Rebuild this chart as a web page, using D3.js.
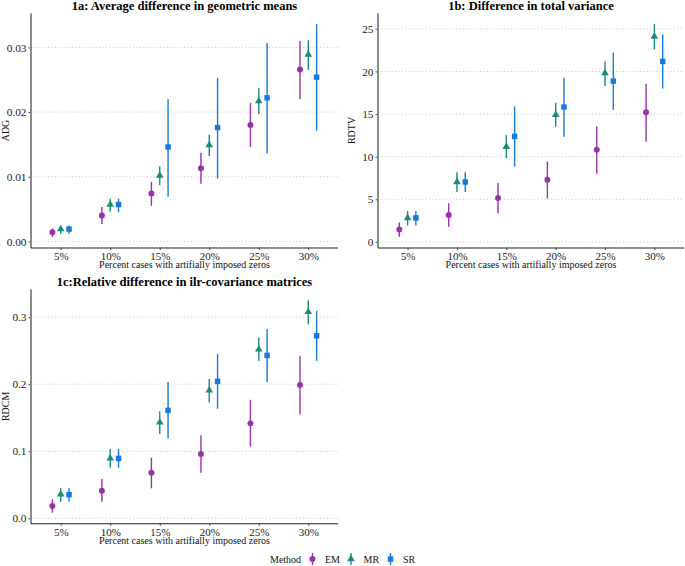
<!DOCTYPE html>
<html><head><meta charset="utf-8">
<script src="https://cdn.jsdelivr.net/npm/d3@7"></script>
<style>body{margin:0;background:#fff}svg{display:block}text{font-family:"Liberation Serif","Times New Roman",serif}</style>
</head><body><svg id="c" width="685" height="566"></svg>
<script>
const categories = ["5%","10%","15%","20%","25%","30%"];
const methods = ["EM","MR","SR"];
const colors = ["#9b31aa","#1b8c7a","#1579e0"];

const adgEM   = [0.0014,0.0040,0.0074,0.0113,0.0180,0.0266];
const adgEMlo = [0.0007,0.0027,0.0055,0.0089,0.0146,0.0220];
const adgEMhi = [0.0020,0.0053,0.0092,0.0137,0.0214,0.0310];
const adgMR   = [0.0019,0.0057,0.0102,0.0149,0.0217,0.0289];
const adgMRlo = [0.0012,0.0046,0.0087,0.0132,0.0197,0.0265];
const adgMRhi = [0.0024,0.0066,0.0116,0.0165,0.0237,0.0311];
const adgSR   = [0.0019,0.0057,0.0146,0.0176,0.0222,0.0254];
const adgSRlo = [0.0012,0.0045,0.0069,0.0097,0.0136,0.0171];
const adgSRhi = [0.0024,0.0066,0.0220,0.0253,0.0307,0.0336];

const rdtvEM   = [1.45,3.16,5.16,7.30,10.82,15.2];
const rdtvEMlo = [0.59,1.76,3.32,5.08,8.0,11.76];
const rdtvEMhi = [2.27,4.53,6.91,9.45,13.55,18.55];
const rdtvMR   = [2.81,7.03,11.17,14.92,19.8,24.1];
const rdtvMRlo = [1.91,5.86,9.8,13.52,18.28,22.58];
const rdtvMRhi = [3.63,8.16,12.54,16.33,21.2,25.55];
const rdtvSR   = [2.81,7.03,12.38,15.82,18.87,21.17];
const rdtvSRlo = [1.91,5.86,8.83,12.34,15.5,18.0];
const rdtvSRhi = [3.63,8.16,15.9,19.26,22.23,24.34];

const rdcmEM   = [0.0184,0.0412,0.068,0.0959,0.1416,0.1987];
const rdcmEMlo = [0.0084,0.0248,0.0447,0.068,0.1068,0.155];
const rdcmEMhi = [0.0283,0.0586,0.0904,0.1237,0.1768,0.2419];
const rdcmMR   = [0.0358,0.0894,0.143,0.1908,0.2519,0.308];
const rdcmMRlo = [0.0248,0.0755,0.1257,0.1729,0.2345,0.2896];
const rdcmMRhi = [0.045,0.1033,0.1595,0.2077,0.2697,0.3254];
const rdcmSR   = [0.0353,0.0894,0.161,0.2042,0.2429,0.2722];
const rdcmSRlo = [0.0248,0.0755,0.1192,0.1634,0.2032,0.235];
const rdcmSRhi = [0.045,0.1033,0.2032,0.2454,0.2822,0.3095];

const adgTicks = [0, 0.01, 0.02, 0.03];
const adgTickLabels = ["0.00","0.01","0.02","0.03"];
const rdtvTicks = [0,5,10,15,20,25];
const rdtvTickLabels = ["0","5","10","15","20","25"];
const rdcmTicks = [0,0.1,0.2,0.3];
const rdcmTickLabels = ["0.0","0.1","0.2","0.3"];

const xTitle = "Percent cases with artifially imposed zeros";

const svg = d3.select("#c");
const symbols = [d3.symbolCircle, d3.symbolTriangle, d3.symbolSquare];
const symSizes = [28, 25, 30];
const FONT = "Liberation Serif";

function panel(opt){
  const {x0,x1,y0,y1,title,ylab,series,ticks,tickLabels,ylabX} = opt;
  const x = d3.scalePoint().domain(categories).range([x0,x1]).padding(0.6);
  const all = series.flatMap(s => s.lo.concat(s.hi));
  const mn = d3.min(all), mx = d3.max(all), ex = (mx-mn)*0.05;
  const y = d3.scaleLinear().domain([mn-ex, mx+ex]).range([y1,y0]);
  const g = svg.append("g");
  // grid
  g.selectAll("line.grid").data(ticks).join("line")
    .attr("x1",x0).attr("x2",x1).attr("y1",d=>y(d)).attr("y2",d=>y(d))
    .attr("stroke","#cccccc").attr("stroke-width",1).attr("stroke-dasharray","1.2,2.2");
  // axes
  const ya = g.append("g").attr("transform",`translate(${x0},0)`)
    .call(d3.axisLeft(y).tickValues(ticks).tickFormat((d,i)=>tickLabels[i]).tickSizeOuter(0).tickSize(2.5).tickPadding(2));
  ya.select(".domain").remove();
  ya.selectAll(".tick line").attr("stroke","#444");
  ya.selectAll("text").attr("font-size",11.3).attr("fill","#222").attr("font-family",FONT);
  g.append("line").attr("x1",x0).attr("x2",x0).attr("y1",y0).attr("y2",y1+0.5)
    .attr("stroke","#8a8a8a").attr("stroke-width",2);
  const xa = g.append("g").attr("transform",`translate(0,${y1})`)
    .call(d3.axisBottom(x).tickSizeOuter(0).tickSize(2.5).tickPadding(2.4));
  xa.select(".domain").attr("d",`M${x0},0.5H${x1}`).attr("stroke","#222").attr("stroke-width",1.1);
  xa.selectAll(".tick line").attr("stroke","#444");
  xa.selectAll("text").attr("font-size",11).attr("fill","#222").attr("font-family",FONT);
  // titles
  g.append("text").attr("x",(x0+x1)/2).attr("y",y0-4).attr("text-anchor","middle")
    .attr("font-size",12.5).attr("font-weight","bold").attr("fill","#000").text(title);
  g.append("text").attr("x",(x0+x1)/2).attr("y",y1+20.3).attr("text-anchor","middle")
    .attr("font-size",10).attr("fill","#111").text(xTitle);
  g.append("text").attr("transform",`translate(${ylabX},${(y0+y1)/2}) rotate(-90)`)
    .attr("text-anchor","middle").attr("font-size",10).attr("fill","#111").text(ylab);
  // marks
  const off = x.step()*0.168;
  series.forEach((s,k)=>{
    const dx = (k-1)*off;
    const gs = g.append("g");
    gs.selectAll("line").data(categories).join("line")
      .attr("x1",(d)=>x(d)+dx).attr("x2",(d)=>x(d)+dx)
      .attr("y1",(d,i)=>y(s.lo[i])).attr("y2",(d,i)=>y(s.hi[i]))
      .attr("stroke",colors[k]).attr("stroke-width",1.4);
    gs.selectAll("path").data(categories).join("path")
      .attr("d",d3.symbol().type(symbols[k]).size(symSizes[k]))
      .attr("transform",(d,i)=>`translate(${x(d)+dx},${y(s.v[i])})`)
      .attr("fill",colors[k]);
  });
}

panel({x0:31,x1:338,y0:13.5,y1:247.5,title:"1a: Average difference in geometric means",ylab:"ADG",ylabX:8.5,
  ticks:adgTicks,tickLabels:adgTickLabels,
  series:[{v:adgEM,lo:adgEMlo,hi:adgEMhi},{v:adgMR,lo:adgMRlo,hi:adgMRhi},{v:adgSR,lo:adgSRlo,hi:adgSRhi}]});
panel({x0:378,x1:684,y0:13.5,y1:247.5,title:"1b: Difference in total variance",ylab:"RDTV",ylabX:355,
  ticks:rdtvTicks,tickLabels:rdtvTickLabels,
  series:[{v:rdtvEM,lo:rdtvEMlo,hi:rdtvEMhi},{v:rdtvMR,lo:rdtvMRlo,hi:rdtvMRhi},{v:rdtvSR,lo:rdtvSRlo,hi:rdtvSRhi}]});
panel({x0:31,x1:338,y0:289.5,y1:523.3,title:"1c:Relative difference in ilr-covariance matrices",ylab:"RDCM",ylabX:8.5,
  ticks:rdcmTicks,tickLabels:rdcmTickLabels,
  series:[{v:rdcmEM,lo:rdcmEMlo,hi:rdcmEMhi},{v:rdcmMR,lo:rdcmMRlo,hi:rdcmMRhi},{v:rdcmSR,lo:rdcmSRlo,hi:rdcmSRhi}]});

// legend
const lg = svg.append("g").attr("transform","translate(0,559)");
lg.append("text").attr("x",270).attr("y",3.8).attr("font-size",10).attr("fill","#111").text("Method");
const keyX = [312.5, 351, 390.5];
methods.forEach((m,k)=>{
  lg.append("line").attr("x1",keyX[k]).attr("x2",keyX[k]).attr("y1",-6).attr("y2",6)
    .attr("stroke",colors[k]).attr("stroke-width",1.4);
  lg.append("path").attr("d",d3.symbol().type(symbols[k]).size(symSizes[k])())
    .attr("transform",`translate(${keyX[k]},0)`).attr("fill",colors[k]);
  lg.append("text").attr("x",keyX[k]+12.5).attr("y",3.8).attr("font-size",10).attr("fill","#111").text(m);
});
</script></body></html>
